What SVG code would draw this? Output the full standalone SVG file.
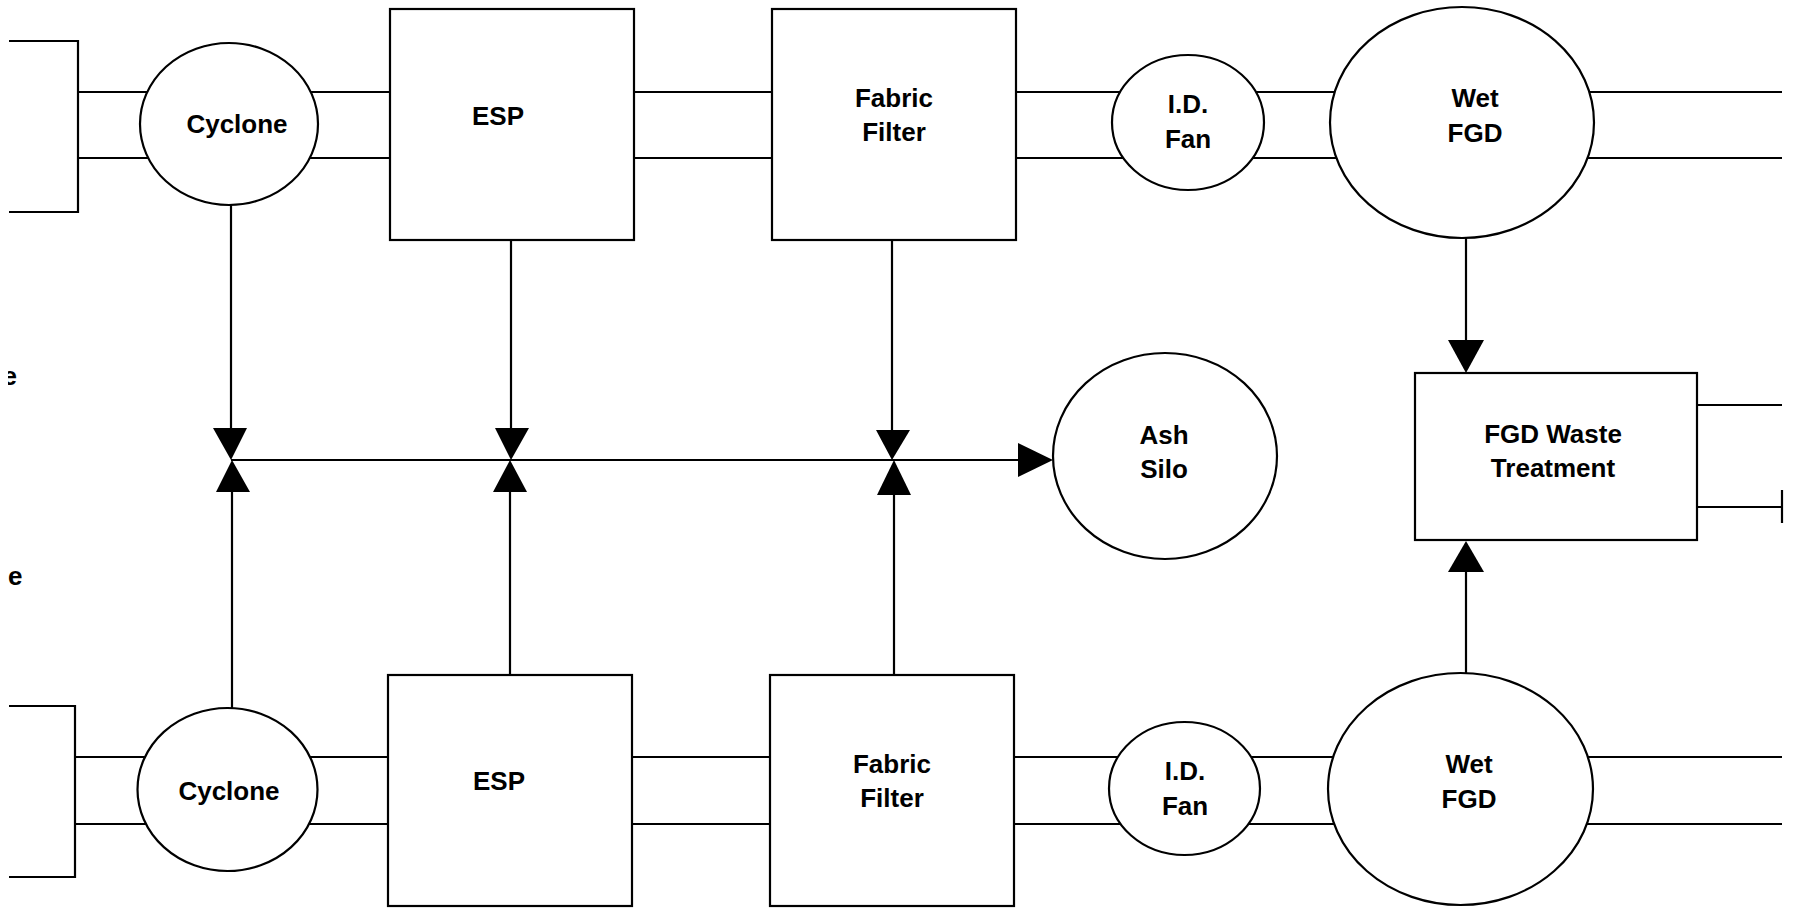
<svg xmlns="http://www.w3.org/2000/svg" width="1794" height="908" viewBox="0 0 1794 908">
<style>
  .ln { fill: none; stroke: #000; stroke-width: 2.2; }
  .sh { fill: #fff; stroke: #000; stroke-width: 2.2; }
  .ah { fill: #000; stroke: none; }
  text { font-family: "Liberation Sans", Arial, sans-serif; font-weight: bold; font-size: 26px; fill: #000; text-anchor: middle; }
  .la { text-anchor: start; }
</style>
<defs>
  <clipPath id="clipL"><rect x="8" y="0" width="1786" height="908"/></clipPath>
</defs>
<rect x="0" y="0" width="1794" height="908" fill="#fff"/>

<g id="connectors">
  <!-- brackets -->
  <polyline class="ln" points="9,41 78,41 78,212 9,212"/>
  <polyline class="ln" points="9,706 75,706 75,877 9,877"/>
  <!-- upper pipes -->
  <line class="ln" x1="78" y1="92" x2="1782" y2="92"/>
  <line class="ln" x1="78" y1="158" x2="1782" y2="158"/>
  <!-- lower pipes -->
  <line class="ln" x1="75" y1="757" x2="1782" y2="757"/>
  <line class="ln" x1="75" y1="824" x2="1782" y2="824"/>
  <!-- upper verticals -->
  <line class="ln" x1="231" y1="205" x2="231" y2="430"/>
  <line class="ln" x1="511" y1="240" x2="511" y2="429"/>
  <line class="ln" x1="892" y1="240" x2="892" y2="431"/>
  <!-- lower verticals -->
  <line class="ln" x1="232" y1="490" x2="232" y2="708"/>
  <line class="ln" x1="510" y1="490" x2="510" y2="675"/>
  <line class="ln" x1="894" y1="493" x2="894" y2="675"/>
  <!-- ash header -->
  <line class="ln" x1="231" y1="460" x2="1020" y2="460"/>
  <polygon class="ah" points="1018,443 1053,460 1018,477"/>
  <!-- valves -->
  <polygon class="ah" points="213,428 247,428 231,460"/>
  <polygon class="ah" points="216,492 250,492 232,460"/>
  <polygon class="ah" points="495,428 529,428 511,460"/>
  <polygon class="ah" points="493,492 527,492 510,460"/>
  <polygon class="ah" points="876,430 910,430 892,460"/>
  <polygon class="ah" points="877,495 911,495 894,460"/>
  <!-- FGD waste arrows -->
  <line class="ln" x1="1466" y1="238" x2="1466" y2="342"/>
  <polygon class="ah" points="1448,340 1484,340 1466,373"/>
  <line class="ln" x1="1466" y1="570" x2="1466" y2="673"/>
  <polygon class="ah" points="1448,572 1484,572 1466,541"/>
  <!-- waste outlets -->
  <line class="ln" x1="1697" y1="405" x2="1782" y2="405"/>
  <line class="ln" x1="1697" y1="507" x2="1782" y2="507"/>
  <line class="ln" x1="1782" y1="490" x2="1782" y2="523"/>
</g>

<g id="cyclone1"><ellipse class="sh" cx="229" cy="124" rx="89" ry="81"/><text x="237" y="133">Cyclone</text></g>
<g id="esp1"><rect class="sh" x="390" y="9" width="244" height="231"/><text x="498" y="125">ESP</text></g>
<g id="ff1"><rect class="sh" x="772" y="9" width="244" height="231"/><text x="894" y="107">Fabric</text><text x="894" y="141">Filter</text></g>
<g id="idfan1"><ellipse class="sh" cx="1188" cy="122.5" rx="76" ry="67.5"/><text x="1188" y="113">I.D.</text><text x="1188" y="148">Fan</text></g>
<g id="wetfgd1"><ellipse class="sh" cx="1462" cy="122.5" rx="132" ry="115.5"/><text x="1475" y="107">Wet</text><text x="1475" y="142">FGD</text></g>

<g id="ashsilo"><ellipse class="sh" cx="1165" cy="456" rx="112" ry="103"/><text x="1164" y="444">Ash</text><text x="1164" y="478">Silo</text></g>
<g id="fgdwaste"><rect class="sh" x="1415" y="373" width="282" height="167"/><text x="1553" y="443">FGD Waste</text><text x="1553" y="477">Treatment</text></g>

<g id="cyclone2"><ellipse class="sh" cx="227.5" cy="789.5" rx="90" ry="81.5"/><text x="229" y="800">Cyclone</text></g>
<g id="esp2"><rect class="sh" x="388" y="675" width="244" height="231"/><text x="499" y="790">ESP</text></g>
<g id="ff2"><rect class="sh" x="770" y="675" width="244" height="231"/><text x="892" y="773">Fabric</text><text x="892" y="807">Filter</text></g>
<g id="idfan2"><ellipse class="sh" cx="1184.5" cy="788.5" rx="75.5" ry="66.5"/><text x="1185" y="780">I.D.</text><text x="1185" y="815">Fan</text></g>
<g id="wetfgd2"><ellipse class="sh" cx="1460.5" cy="789" rx="132.5" ry="116"/><text x="1469" y="773">Wet</text><text x="1469" y="808">FGD</text></g>

<g id="edge-labels">
  <text class="la" x="2.5" y="385" clip-path="url(#clipL)">e</text>
  <text class="la" x="8" y="585">e</text>
</g>
</svg>
